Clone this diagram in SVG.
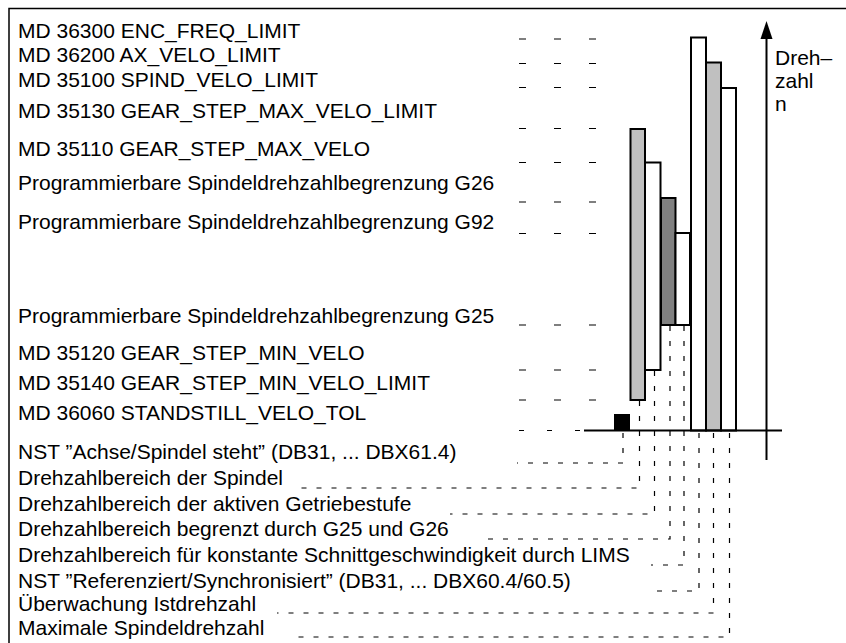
<svg xmlns="http://www.w3.org/2000/svg" width="846" height="643" viewBox="0 0 846 643">
<style>
text{font-family:"Liberation Sans",Arial,sans-serif;font-size:21px;fill:#000}
.bar{stroke:#000;stroke-width:2}
.w{fill:#fff}.lg{fill:#c0c0c0}.dg{fill:#808080}
.tick{stroke:#000;stroke-width:1.2;stroke-dasharray:7 28;fill:none}
.dl{stroke:#000;stroke-width:1.2;fill:none;stroke-dasharray:5 10}
</style>
<rect width="846" height="643" fill="#fff"/>
<g id="frame"><path d="M9,643 V8.5 H846" fill="none" stroke="#000" stroke-width="1.5"/></g>

<g id="labels">
<g id="l1"><text x="18" y="37.5">MD 36300 ENC_FREQ_LIMIT</text></g>
<g id="l2"><text x="18" y="61.5">MD 36200 AX_VELO_LIMIT</text></g>
<g id="l3"><text x="18" y="87">MD 35100 SPIND_VELO_LIMIT</text></g>
<g id="l4"><text x="18" y="118">MD 35130 GEAR_STEP_MAX_VELO_LIMIT</text></g>
<g id="l5"><text x="18" y="156">MD 35110 GEAR_STEP_MAX_VELO</text></g>
<g id="l6"><text x="18" y="190">Programmierbare Spindeldrehzahlbegrenzung G26</text></g>
<g id="l7"><text x="18" y="229">Programmierbare Spindeldrehzahlbegrenzung G92</text></g>
<g id="l8"><text x="18" y="323">Programmierbare Spindeldrehzahlbegrenzung G25</text></g>
<g id="l9"><text x="18" y="360">MD 35120 GEAR_STEP_MIN_VELO</text></g>
<g id="l10"><text x="18" y="390">MD 35140 GEAR_STEP_MIN_VELO_LIMIT</text></g>
<g id="l11"><text x="18" y="420">MD 36060 STANDSTILL_VELO_TOL</text></g>
<g id="b1"><text x="18" y="459">NST ”Achse/Spindel steht” (DB31, ... DBX61.4)</text></g>
<g id="b2"><text x="18" y="485">Drehzahlbereich der Spindel</text></g>
<g id="b3"><text x="18" y="511">Drehzahlbereich der aktiven Getriebestufe</text></g>
<g id="b4"><text x="18" y="536">Drehzahlbereich begrenzt durch G25 und G26</text></g>
<g id="b5"><text x="18" y="562">Drehzahlbereich für konstante Schnittgeschwindigkeit durch LIMS</text></g>
<g id="b6"><text x="18" y="588">NST ”Referenziert/Synchronisiert” (DB31, ... DBX60.4/60.5)</text></g>
<g id="b7"><text x="18" y="611">Überwachung Istdrehzahl</text></g>
<g id="b8"><text x="18" y="635">Maximale Spindeldrehzahl</text></g>
<g id="axislabel"><text x="775" y="65">Dreh–</text><text x="775" y="88">zahl</text><text x="775" y="111">n</text></g>
</g>

<g id="ticks">
<line class="tick" x1="519" y1="39" x2="596" y2="39"/>
<line class="tick" x1="519" y1="63.5" x2="596" y2="63.5"/>
<line class="tick" x1="519" y1="87.5" x2="596" y2="87.5"/>
<line class="tick" x1="519" y1="128.5" x2="596" y2="128.5"/>
<line class="tick" x1="519" y1="162.5" x2="596" y2="162.5"/>
<line class="tick" x1="519" y1="202" x2="596" y2="202"/>
<line class="tick" x1="519" y1="233.5" x2="596" y2="233.5"/>
<line class="tick" x1="519" y1="325" x2="596" y2="325"/>
<line class="tick" x1="519" y1="370" x2="596" y2="370"/>
<line class="tick" x1="519" y1="400" x2="596" y2="400"/>
<line class="tick" x1="519" y1="430.5" x2="584" y2="430.5" style="stroke-dasharray:5 23"/>
</g>

<g id="bars">
<rect id="barA" class="bar lg" x="630.5" y="129" width="14.5" height="271"/>
<rect id="barB" class="bar w" x="645" y="162.5" width="15.5" height="207.5"/>
<rect id="barC" class="bar dg" x="661" y="198" width="14.5" height="127"/>
<rect id="barD" class="bar w" x="675.5" y="233" width="14.5" height="92"/>
<rect id="barE" class="bar w" x="691" y="37.5" width="15" height="393"/>
<rect id="barF" class="bar lg" x="706" y="62.5" width="15" height="368"/>
<rect id="barG" class="bar w" x="721" y="88" width="15" height="342.5"/>
<rect id="standstill" x="614" y="414" width="16" height="16.5" fill="#000"/>
</g>

<g id="axes">
<line x1="584" y1="430.5" x2="782" y2="430.5" stroke="#000" stroke-width="2"/>
<line x1="766.5" y1="34" x2="766.5" y2="460" stroke="#000" stroke-width="2"/>
<polygon points="766.5,21 760.5,39 772.5,39" fill="#000"/>
</g>

<g id="connectors">
<path class="dl" d="M623,433 V463 H517"/>
<path class="dl" d="M639.5,401 V488 H300"/>
<path class="dl" d="M654.5,371 V514 H450"/>
<path class="dl" d="M670,326 V539 H483"/>
<path class="dl" d="M684,326 V565 H651"/>
<path class="dl" d="M699,433 V591 H652"/>
<path class="dl" d="M713.5,433 V613 H277"/>
<path class="dl" d="M729.5,433 V637 H290"/>
</g>
</svg>
